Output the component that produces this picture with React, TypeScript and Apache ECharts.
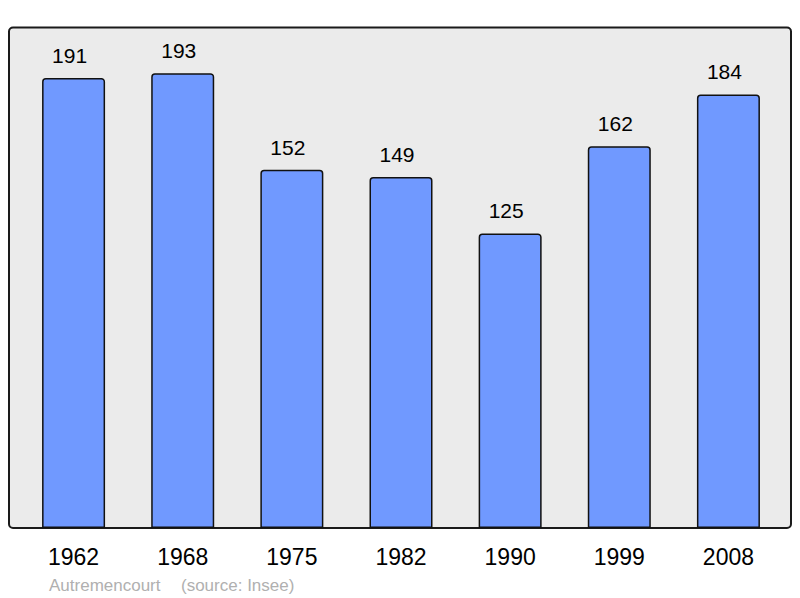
import React, { useEffect, useRef } from "react";
import * as echarts from "echarts";

const years = ["1962", "1968", "1975", "1982", "1990", "1999", "2008"];
const population = [191, 193, 152, 149, 125, 162, 184];
const townName = "Autremencourt";
const sourceText = "(source: Insee)";

const FONT = "'Liberation Sans', Arial, Helvetica, sans-serif";

export default function App() {
  const ref = useRef<HTMLDivElement>(null);
  useEffect(() => {
    document.body.style.margin = "0";
    if (!ref.current) return;
    const chart = echarts.init(ref.current, undefined, { renderer: "svg" });
    chart.setOption({
      animation: false,
      backgroundColor: "#ffffff",
      textStyle: { fontFamily: FONT },
      grid: { left: 19, right: 17, top: 27, bottom: 70, containLabel: false },
      graphic: [
        {
          type: "rect",
          z: -10,
          silent: true,
          shape: { x: 9, y: 27.5, width: 782, height: 500.5, r: 4 },
          style: { fill: "#ebebeb", stroke: "#1a1a1a", lineWidth: 2 },
        },
        {
          type: "text",
          x: 49,
          y: 585,
          silent: true,
          style: {
            text: townName,
            fill: "#b0b0b0",
            font: `17px ${FONT}`,
            textVerticalAlign: "middle",
          },
        },
        {
          type: "text",
          x: 181,
          y: 585,
          silent: true,
          style: {
            text: sourceText,
            fill: "#b0b0b0",
            font: `17px ${FONT}`,
            textVerticalAlign: "middle",
          },
        },
      ],
      xAxis: {
        type: "category",
        data: years,
        axisLine: { show: false },
        axisTick: { show: false },
        axisLabel: { fontSize: 23, color: "#000", margin: 17, fontFamily: FONT },
      },
      yAxis: {
        type: "value",
        min: 0,
        max: 212.6,
        show: false,
        splitLine: { show: false },
      },
      series: [
        {
          type: "bar",
          data: population,
          barWidth: 63,
          itemStyle: {
            color: "#7099ff",
            borderColor: "#111",
            borderWidth: 1.5,
            borderRadius: [3, 3, 0, 0],
          },
          label: {
            show: true,
            position: "top",
            distance: 12,
            offset: [-4, 0],
            fontSize: 21,
            color: "#000",
            fontFamily: FONT,
          },
        },
      ],
    });
    return () => chart.dispose();
  }, []);
  return <div ref={ref} style={{ width: 800, height: 598 }} />;
}
